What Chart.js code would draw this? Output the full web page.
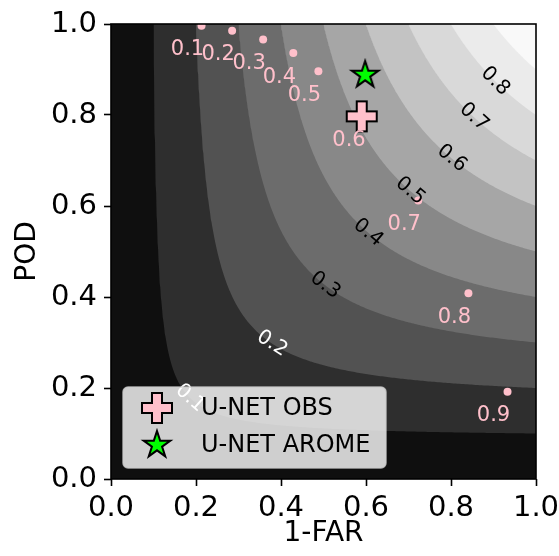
<!DOCTYPE html>
<html>
<head>
<meta charset="utf-8">
<script src="https://cdn.jsdelivr.net/npm/chart.js@4.4.0/dist/chart.umd.min.js"></script>
<style>
  body { margin: 0; background: #fff; }
  canvas { display: block; }
</style>
</head>
<body>
<canvas id="mycanvas" width="559" height="556"></canvas>
<script>
// CSI levels of the background and the grey of each band (lowest band first)
var csiLevels = [0.1, 0.2, 0.3, 0.4, 0.5, 0.6, 0.7, 0.8, 0.9];
var bandColors = ['#0f0f0f', '#2e2e2e', '#525252', '#6c6c6c', '#888888', '#a6a6a6', '#c3c3c3', '#d9d9d9', '#ebebeb', '#f9f9f9'];
// success ratio where each contour label sits (labels 0.1 .. 0.8)
var contourLabelSR = [0.186, 0.379, 0.504, 0.605, 0.704, 0.802, 0.854, 0.904];

// threshold points
var thrNames = ['0.1', '0.2', '0.3', '0.4', '0.5', '0.6', '0.7', '0.8', '0.9'];
var thrSR  = [0.213, 0.285, 0.358, 0.429, 0.488, 0.593, 0.723, 0.841, 0.933];
var thrPOD = [0.996, 0.985, 0.966, 0.936, 0.896, 0.797, 0.612, 0.408, 0.192];

// models
var obsSR = [0.590], obsPOD = [0.797];
var aromeSR = [0.598], aromePOD = [0.888];

var tickValues = [0, 0.2, 0.4, 0.6, 0.8, 1.0];

var FONT = 'DejaVu Sans';

function csiPod(c, sr) {
  return 1 / (1 / c + 1 - 1 / sr);
}

function makeMarker(kind) {
  var cv = document.createElement('canvas');
  cv.width = 38; cv.height = 38;
  var g = cv.getContext('2d');
  g.translate(19, 19);
  g.beginPath();
  if (kind == 'plus') {
    var s = 30 / 6;
    var p = [[-1,-3],[1,-3],[1,-1],[3,-1],[3,1],[1,1],[1,3],[-1,3],[-1,1],[-3,1],[-3,-1],[-1,-1]];
    for (var i = 0; i < p.length; i++) {
      if (i == 0) g.moveTo(p[i][0] * s, p[i][1] * s); else g.lineTo(p[i][0] * s, p[i][1] * s);
    }
    g.closePath();
    g.fillStyle = 'pink';
  } else {
    var R = 14, r = R * 0.381966;
    for (var k = 0; k < 10; k++) {
      var a = -Math.PI / 2 + k * Math.PI / 5;
      var rr = (k % 2 == 0) ? R : r;
      if (k == 0) g.moveTo(rr * Math.cos(a), rr * Math.sin(a)); else g.lineTo(rr * Math.cos(a), rr * Math.sin(a));
    }
    g.closePath();
    g.fillStyle = '#00ff00';
  }
  g.fill();
  g.lineWidth = 2;
  g.lineJoin = 'miter';
  g.strokeStyle = '#000';
  g.stroke();
  return cv;
}

var plusImg = makeMarker('plus');
var starImg = makeMarker('star');

var datasets = [];
datasets.push({
  type: 'line', label: 'band', data: [{x: 0, y: 0}, {x: 1, y: 0}],
  fill: 'end', backgroundColor: bandColors[0], borderColor: 'transparent',
  pointRadius: 0, order: 60
});
csiLevels.forEach(function(c, i) {
  var pts = [];
  for (var k = 0; k <= 300; k++) {
    var t = k / 300;
    var sr = c + (1 - c) * t * t;
    pts.push({x: sr, y: csiPod(c, sr)});
  }
  datasets.push({
    type: 'line', label: 'csi ' + c, data: pts,
    fill: 'end', backgroundColor: bandColors[i + 1], borderColor: 'transparent',
    borderWidth: 0, pointRadius: 0, tension: 0, order: 50 - i
  });
});
datasets.push({
  label: 'thresholds',
  data: thrSR.map(function(v, i) { return {x: v, y: thrPOD[i]}; }),
  pointRadius: 4, backgroundColor: 'pink', borderWidth: 0, order: 3
});
datasets.push({
  label: 'U-NET OBS',
  data: obsSR.map(function(v, i) { return {x: v, y: obsPOD[i]}; }),
  pointStyle: plusImg, order: 2
});
datasets.push({
  label: 'U-NET AROME',
  data: aromeSR.map(function(v, i) { return {x: v, y: aromePOD[i]}; }),
  pointStyle: starImg, order: 1
});

var extras = {
  id: 'extras',
  afterDatasetsDraw: function(chart) {
    var ctx = chart.ctx, xs = chart.scales.x, ys = chart.scales.y, ca = chart.chartArea;
    ctx.save();
    ctx.beginPath();
    ctx.rect(ca.left, ca.top, ca.right - ca.left, ca.bottom - ca.top);
    ctx.clip();
    // contour labels
    ctx.font = '20px "' + FONT + '"';
    ctx.textAlign = 'center';
    ctx.textBaseline = 'middle';
    contourLabelSR.forEach(function(sr, i) {
      var c = csiLevels[i];
      var px = xs.getPixelForValue(sr), py = ys.getPixelForValue(csiPod(c, sr));
      var px2 = xs.getPixelForValue(sr + 0.01), py2 = ys.getPixelForValue(csiPod(c, sr + 0.01));
      var ang = Math.atan2(py2 - py, px2 - px);
      ctx.save();
      ctx.translate(px, py);
      ctx.rotate(ang);
      ctx.fillStyle = i < 2 ? '#fff' : '#000';
      ctx.fillText(c.toFixed(1), 0, 0);
      ctx.restore();
    });
    // threshold labels
    ctx.font = '21px "' + FONT + '"';
    ctx.fillStyle = 'pink';
    thrNames.forEach(function(n, i) {
      ctx.fillText(n, xs.getPixelForValue(thrSR[i]) - 14, ys.getPixelForValue(thrPOD[i]) + 24);
    });
    ctx.restore();

    // legend
    ctx.save();
    var lx = 123, ly = 387, lw = 263, lh = 81;
    ctx.beginPath();
    ctx.roundRect(lx, ly, lw, lh, 5);
    ctx.fillStyle = 'rgba(255,255,255,0.8)';
    ctx.fill();
    ctx.lineWidth = 1.5;
    ctx.strokeStyle = 'rgba(204,204,204,0.8)';
    ctx.stroke();
    ctx.drawImage(plusImg, 157 - 19, 408 - 19);
    ctx.drawImage(starImg, 157 - 19, 445 - 19);
    ctx.fillStyle = '#000';
    ctx.font = '24px "' + FONT + '"';
    ctx.textAlign = 'left';
    ctx.textBaseline = 'middle';
    ctx.fillText(datasets[datasets.length - 2].label, 201, 409);
    ctx.fillText(datasets[datasets.length - 1].label, 201, 446);
    ctx.restore();
  },
  afterDraw: function(chart) {
    var ctx = chart.ctx, ca = chart.chartArea;
    ctx.save();
    ctx.lineWidth = 1.6;
    ctx.strokeStyle = '#000';
    ctx.strokeRect(ca.left, ca.top, ca.right - ca.left, ca.bottom - ca.top);
    ctx.restore();
  }
};

function axisOptions(title, isX) {
  return {
    type: 'linear', min: 0, max: 1,
    afterBuildTicks: function(s) { s.ticks = tickValues.map(function(v) { return {value: v}; }); },
    afterFit: function(s) {
      if (isX) s.height = 77; else s.width = 111;
      s.paddingLeft = 0; s.paddingRight = 0; s.paddingTop = 0; s.paddingBottom = 0;
    },
    grid: { drawOnChartArea: false, drawTicks: true, tickLength: 7, tickWidth: 1.6, tickColor: '#000', color: '#000' },
    border: { display: false },
    ticks: {
      color: '#000', autoSkip: false, maxRotation: 0, padding: isX ? 5 : 7,
      font: { family: FONT, size: 29 },
      callback: function(v) { return Number(v).toFixed(1); }
    },
    title: {
      display: true, text: title, color: '#000',
      font: { family: FONT, size: 28 },
      padding: isX ? {top: 0, bottom: 5} : {top: 11, bottom: 0}
    }
  };
}

var ctx = document.getElementById('mycanvas');
var chart = new Chart(ctx, {
  type: 'scatter',
  data: { datasets: datasets },
  options: {
    responsive: false,
    animation: false,
    layout: { padding: { top: 24, right: 23, left: 0, bottom: 0 } },
    plugins: { legend: { display: false }, tooltip: { enabled: false } },
    scales: { x: axisOptions('1-FAR', true), y: axisOptions('POD', false) }
  },
  plugins: [extras]
});
</script>
</body>
</html>
